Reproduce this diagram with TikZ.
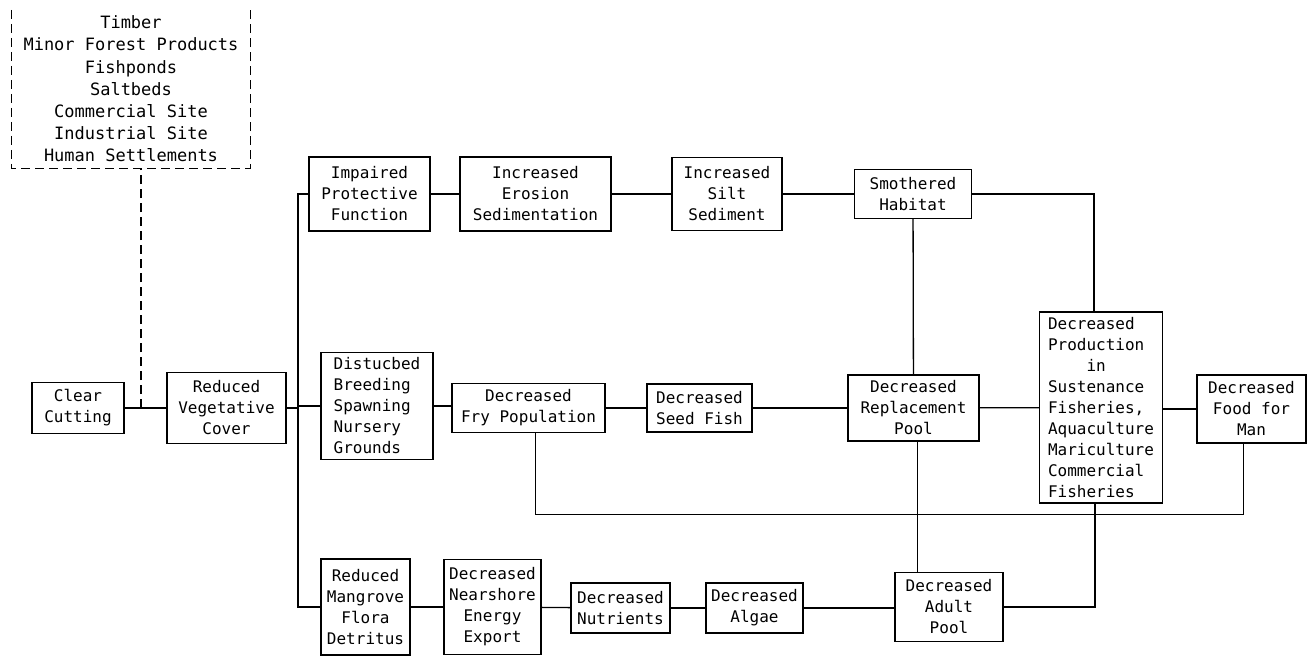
\documentclass[tikz,border=0pt]{standalone}
\usepackage{fontspec}
\setmonofont{DejaVu Sans Mono}
\tikzset{
  txt/.style={font=\ttfamily\fontsize{16}{21}\selectfont},
  blk/.style={txt, draw, line width=1.3pt, align=center, inner sep=2pt},
  lnk/.style={line width=1.3pt},
}
\begin{document}
\begin{tikzpicture}[x=1pt,y=-1pt]
  \useasboundingbox (0,0) rectangle (1308,656);
  % uses of the forest
  \node[txt, font=\ttfamily\fontsize{17}{22.2}\selectfont, align=center, minimum width=238pt, minimum height=158pt] (src) at (131,89)
    {Timber\\Minor Forest Products\\Fishponds\\Saltbeds\\Commercial Site\\Industrial Site\\Human Settlements};
  \draw[line width=1.1pt, dash pattern=on 9pt off 5pt] (src.north west) -- (src.south west) -- (src.south east) -- (src.north east);

  \node[blk, minimum width=92pt, minimum height=51pt] (cut) at (78,408) {Clear\\Cutting};
  \node[blk, minimum width=119pt, minimum height=71pt] (veg) at (226.5,408) {Reduced\\Vegetative\\Cover};

  % top row
  \node[blk, minimum width=121pt, minimum height=74pt] (imp) at (369.5,194) {Impaired\\Protective\\Function};
  \node[blk, minimum width=151pt, minimum height=74pt] (ero) at (535.5,194) {Increased\\Erosion\\Sedimentation};
  \node[blk, minimum width=110pt, minimum height=73pt] (silt) at (727,194) {Increased\\Silt\\Sediment};
  \node[blk, minimum width=117pt, minimum height=49pt] (smo) at (913,194) {Smothered\\Habitat};

  % middle row
  \node[blk, align=left, minimum width=112pt, minimum height=107pt] (dist) at (377,406) {Distucbed\\Breeding\\Spawning\\Nursery\\Grounds};
  \node[blk, minimum width=153pt, minimum height=49pt] (fry) at (528.5,408) {Decreased\\Fry Population};
  \node[blk, minimum width=105pt, minimum height=48pt] (seed) at (699.5,408) {Decreased\\Seed Fish};
  \node[blk, minimum width=131pt, minimum height=66pt] (rep) at (913.5,408) {Decreased\\Replacement\\Pool};
  \node[blk, align=left, minimum width=123pt, minimum height=191pt] (prod) at (1101,407.5)
    {Decreased\\Production\\\phantom{0000}in\\Sustenance\\Fisheries,\\Aquaculture\\Mariculture\\Commercial\\Fisheries};
  \node[blk, minimum width=109pt, minimum height=68pt] (food) at (1251.5,409) {Decreased\\Food for\\Man};

  % bottom row
  \node[blk, minimum width=89pt, minimum height=96pt] (mang) at (365.5,607) {Reduced\\Mangrove\\Flora\\Detritus};
  \node[blk, minimum width=97pt, minimum height=95pt] (near) at (492.5,607) {Decreased\\Nearshore\\Energy\\Export};
  \node[blk, minimum width=99pt, minimum height=50pt] (nut) at (620.5,608) {Decreased\\Nutrients};
  \node[blk, minimum width=97pt, minimum height=50pt] (alg) at (754.5,608) {Decreased\\Algae};
  \node[blk, minimum width=108pt, minimum height=69pt] (adult) at (949,607) {Decreased\\Adult\\Pool};

  \coordinate (jn) at (141,408);
  \coordinate (bus) at (298,408);

  % links
  \draw[lnk] (cut) -- (veg);
  \draw[line width=1.1pt, dash pattern=on 9pt off 5pt] (jn) -- (jn |- src.south);
  \draw[lnk] (veg) -- (bus);
  \draw[lnk] (imp.west) -| (bus) |- (mang.west);
  \draw[lnk] (dist.west) -- (dist.west -| bus);
  \draw[lnk] (imp) -- (ero);
  \draw[lnk] (ero) -- (silt);
  \draw[lnk] (silt) -- (smo);
  \draw[lnk] (smo.east) -| ([xshift=-7pt]prod.north);
  \draw[lnk] (smo) -- (rep);
  \draw[lnk] (dist.east) -- (dist.east -| fry.west);
  \draw[lnk] (fry) -- (seed);
  \draw[lnk] (seed) -- (rep);
  \draw[lnk] (rep) -- (prod);
  \draw[lnk] (prod.east |- food.west) -- (food.west);
  \draw[lnk] ([xshift=4pt]rep.south) -- ([xshift=4pt]rep.south |- adult.north);
  \draw[lnk] ([xshift=-8pt]food.south) -- ++(0,71) -| ([xshift=7pt]fry.south);
  \draw[lnk] (adult.east) -| ([xshift=-6pt]prod.south);
  \draw[lnk] (mang) -- (near);
  \draw[lnk] (near) -- (nut);
  \draw[lnk] (nut.east) -- (alg.west);
  \draw[lnk] (alg.east) -- (alg.east -| adult.west);
\end{tikzpicture}
\end{document}
